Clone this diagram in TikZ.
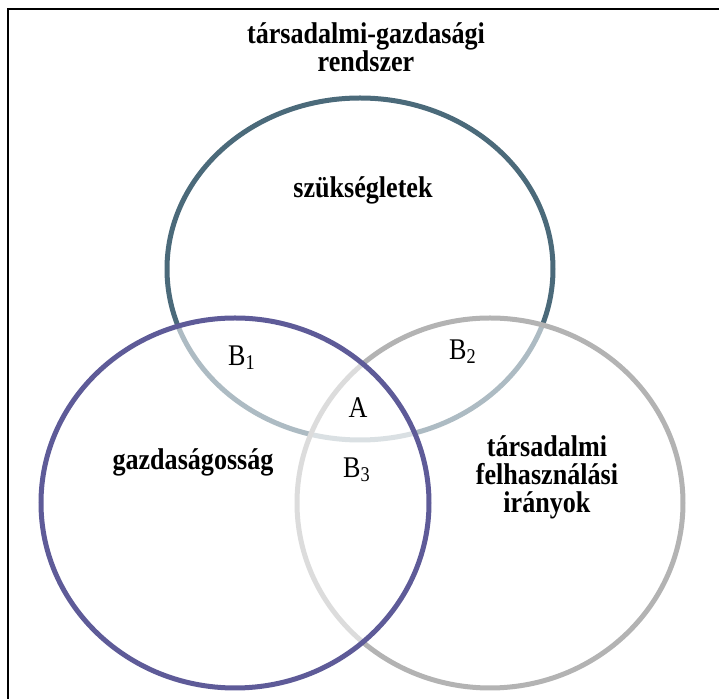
\documentclass[tikz,border=0pt]{standalone}
\usepackage{fontspec}
\setmainfont{Liberation Serif}
\newfontfamily\narrowserif{Liberation Serif}[FakeStretch=0.87]
\usetikzlibrary{calc}

\definecolor{needcol}{HTML}{4B6A7A}
\definecolor{econcol}{HTML}{5E5B98}
\definecolor{usecol}{HTML}{B3B3B3}

\tikzset{
    ring/.style = {line width=2.5pt, fill=white, fill opacity=0.55},
    bigtext/.style = {font=\narrowserif\fontsize{15}{14}\selectfont\bfseries, align=center, inner sep=0pt},
    region/.style = {font=\narrowserif\fontsize{15}{15}\selectfont, inner sep=0pt}
}

\begin{document}
\begin{tikzpicture}[x=0.5pt, y=-0.5pt]
    \useasboundingbox (0,0) rectangle (719,699);

    \coordinate (Corner)   at (8,9);
    \coordinate (TopEnd)   at (719,9);
    \coordinate (LeftEnd)  at (8,699);

    \coordinate (Need) at (360,269);
    \coordinate (Econ) at (235,503);
    \coordinate (Use)  at (490,503);

    \draw [line width=1pt] (LeftEnd) -- (Corner) -- (TopEnd);% frame

    % the three rings
    \draw [ring, draw=needcol] (Need) ellipse [x radius=193, y radius=171];
    \draw [ring, draw=usecol]  (Use)  ellipse [x radius=193, y radius=185];
    \draw [ring, draw=econcol] (Econ) ellipse [x radius=194, y radius=185];

    % labels
    \node [bigtext] (system) at (366,47) {társadalmi-gazdasági\\rendszer};
    \node [bigtext] (needs)  at (363,190) {szükségletek};
    \node [bigtext] (econ)   at (193,462) {gazdaságosság};
    \node [bigtext] (use)    at (547,477) {társadalmi\\felhasználási\\irányok};

    \node [region] (Bone)   at (242,358) {B\textsubscript{1}};
    \node [region] (Btwo)   at (463,352) {B\textsubscript{2}};
    \node [region] (A)      at (358,408) {A};
    \node [region] (Bthree) at (357,470) {B\textsubscript{3}};
\end{tikzpicture}
\end{document}
